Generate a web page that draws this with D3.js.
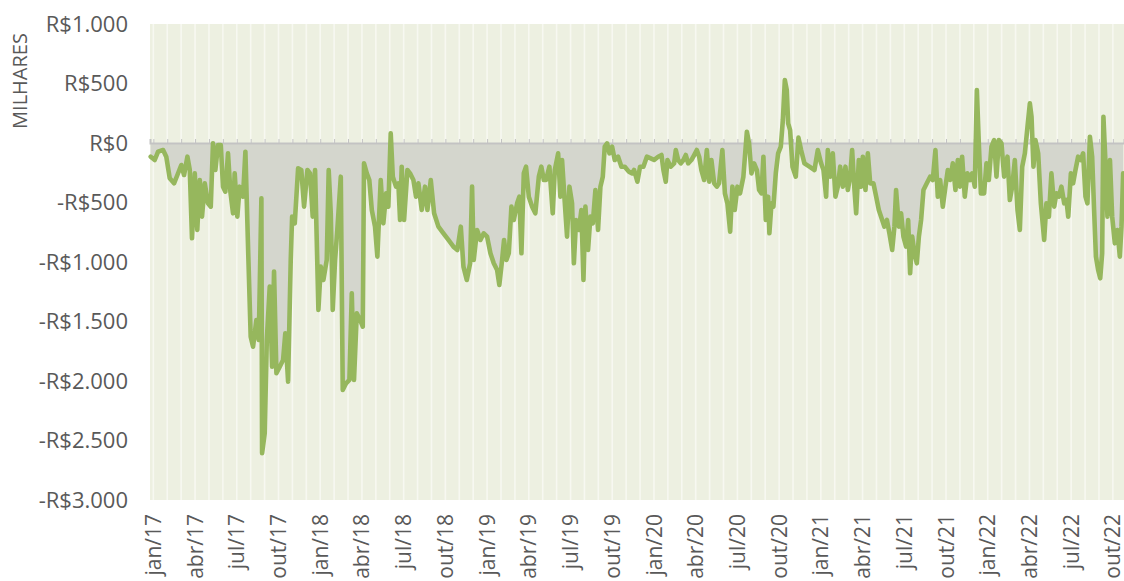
<!DOCTYPE html>
<html>
<head>
<meta charset="utf-8">
<script src="https://cdn.jsdelivr.net/npm/d3@7"></script>
<style>
	body { margin: 0; background: #fff; }
	text { font-family: "Open Sans", sans-serif; fill: #595959; }
</style>
</head>
<body>
<div id="mon"></div>
<script>
// meses desde jan/17 (fração do mês) e saldo em R$ mil
const mes = [
	-0.19,0.10,0.34,0.70,0.93,1.18,1.49,1.73,2.01,2.21,2.45,2.62,2.78,2.98,3.16,3.34,3.50,3.70,3.93,4.13,
	4.29,4.46,4.65,4.85,5.01,5.18,5.37,5.54,5.73,5.85,6.04,6.21,6.45,6.62,6.81,7.00,7.17,7.41,7.58,7.77,
	7.82,8.01,8.16,8.37,8.54,8.68,8.85,9.09,9.33,9.49,9.69,9.88,9.98,10.17,10.41,10.64,10.84,11.08,
	11.27,11.46,11.63,11.87,12.04,12.23,12.47,12.61,12.76,12.90,13.07,13.23,13.48,13.62,13.86,
	14.10,14.27,14.43,14.63,14.87,15.06,15.15,15.35,15.53,15.71,15.94,16.11,16.35,16.54,16.74,
	16.90,17.07,17.22,17.45,17.62,17.74,17.86,18.03,18.27,18.46,18.70,18.89,19.06,19.30,19.54,
	19.71,19.95,20.19,20.50,20.86,21.22,21.58,21.86,22.11,22.30,22.54,22.78,
	22.92,23.04,23.28,23.52,23.76,24.00,24.24,24.48,24.72,24.88,25.08,25.22,25.39,25.56,25.75,
	25.92,26.16,26.32,26.47,26.64,26.80,27.00,27.24,27.47,27.72,27.90,28.08,28.24,28.48,28.72,
	28.87,29.11,29.27,29.39,29.59,29.75,29.92,30.11,30.24,30.40,30.60,30.78,30.93,31.07,31.26,
	31.43,31.60,31.79,31.98,32.15,32.32,32.46,32.63,32.80,32.99,33.18,33.42,33.66,33.90,34.19,34.43,
	34.57,34.81,35.00,35.24,35.49,35.77,36.01,36.30,36.54,36.68,36.85,36.97,37.21,37.45,37.57,
	37.74,37.93,38.12,38.29,38.46,38.69,38.89,39.08,39.25,39.41,39.61,39.80,39.97,40.13,40.33,
	40.52,40.68,40.92,41.10,41.28,41.48,41.64,41.81,42.00,42.19,42.43,42.68,42.84,43.01,43.20,
	43.40,43.56,43.73,43.87,44.04,44.21,44.30,44.45,44.59,44.76,44.93,45.12,45.27,45.41,45.55,
	45.65,45.79,45.96,46.20,
	46.39,46.58,46.82,47.18,47.54,47.78,48.02,48.19,48.38,48.50,48.67,48.86,49.05,49.22,49.39,
	49.58,49.77,49.94,50.11,50.25,50.42,50.54,50.73,50.90,51.02,51.21,51.38,51.55,51.78,51.98,
	52.17,52.41,52.57,52.75,52.93,53.13,53.29,53.41,53.61,53.77,53.94,54.13,54.28,54.42,54.57,
	54.73,54.90,55.05,55.21,55.38,55.62,55.86,56.05,56.24,56.41,56.58,56.77,56.96,57.13,57.30,
	57.49,57.68,57.85,
	58.00,58.16,58.35,58.54,58.72,58.88,59.07,59.22,59.36,59.51,59.74,59.91,60.08,60.27,60.46,
	60.63,60.80,60.99,61.18,61.42,61.59,61.76,61.95,62.14,62.31,62.48,62.67,62.86,63.03,63.15,
	63.29,63.43,63.63,63.82,64.06,64.22,64.40,64.58,64.78,64.94,65.12,65.30,65.50,65.66,65.79,
	65.98,66.14,66.31,66.50,66.70,66.86,67.03,67.17,67.35,67.51,67.65,67.78,67.94,68.09,68.23,
	68.32,68.47,68.61,68.79,68.95,69.14,69.33,69.50,69.62,69.74
];
const saldo = [
	-115,-143,-73,-59,-115,-297,-339,-269,-185,-269,-115,-227,-801,-255,-731,-311,-619,-339,-507,-535,
	-3,-227,-17,-17,-367,-409,-87,-409,-591,-255,-619,-367,-451,-73,-871,-1628,-1712,-1487,-1655,-465,
	-2607,-2439,-1655,-1207,-1880,-1081,-1935,-1880,-1823,-1599,-2006,-983,-619,-675,-213,-227,-535,-227,
	-255,-619,-227,-1403,-1039,-1151,-983,-227,-591,-1403,-983,-731,-283,-2076,-2019,
	-1991,-1263,-1991,-1431,-1487,-1543,-171,-255,-311,-563,-703,-955,-311,-675,-423,
	-535,81,-283,-367,-339,-647,-199,-647,-227,-255,-311,-451,-339,-563,-367,
	-563,-311,-591,-703,-759,-815,-871,-899,-703,-1039,-1151,-1011,
	-367,-983,-731,-815,-759,-787,-927,-1011,-1067,-1193,-983,-815,-983,-927,-535,
	-647,-507,-451,-927,-255,-199,-451,-535,-591,-283,-199,-311,-311,-199,-591,
	-227,-87,-451,-143,-507,-787,-367,-507,-1011,-647,-731,-563,-1151,-535,-899,
	-619,-675,-395,-731,-367,-283,-31,-3,-87,-31,-143,-115,-199,-199,-241,-255,
	-227,-325,-199,-199,-115,-129,-143,-115,-101,-227,-325,-143,-199,-171,-59,
	-143,-171,-143,-101,-171,-143,-101,-59,-115,-227,-311,-59,-325,-143,-339,
	-367,-339,-59,-423,-507,-745,-367,-563,-367,-423,-283,95,-3,-255,-171,
	-227,-395,-423,-115,-647,-451,-759,-507,-535,-255,-87,-31,193,529,445,
	165,109,-199,-283,
	45,-59,-171,-199,-227,-59,-171,-227,-451,-59,-283,-87,-451,-367,-199,
	-367,-199,-395,-283,-59,-395,-591,-143,-367,-115,-395,-87,-339,-339,-451,
	-563,-647,-703,-647,-759,-899,-703,-395,-703,-591,-787,-871,-647,-1095,-787,
	-927,-1011,-787,-647,-395,-339,-283,-311,-59,-451,-311,-535,-367,-227,-311,
	-171,-395,-143,
	-367,-115,-451,-255,-311,-255,-367,445,-3,-423,-423,-171,-311,-31,25,
	-283,25,-3,-283,-115,-479,-367,-143,-563,-731,-199,-87,137,333,221,
	-199,25,-87,-507,-815,-507,-619,-255,-535,-423,-451,-367,-507,-479,-619,
	-255,-339,-227,-115,-143,-87,-451,-507,53,-115,-563,-955,-1067,-1137,-927,
	221,-171,-619,-143,-619,-843,-731,-955,-703,-255
];

const mesesRot = d3.range(0, 70, 3);
const rotulosX = ['jan/17','abr/17','jul/17','out/17','jan/18','abr/18','jul/18','out/18',
	'jan/19','abr/19','jul/19','out/19','jan/20','abr/20','jul/20','out/20',
	'jan/21','abr/21','jul/21','out/21','jan/22','abr/22','jul/22','out/22'];
const valoresY = [1000, 500, 0, -500, -1000, -1500, -2000, -2500, -3000];
const rotulosY = ['R$1.000','R$500','R$0','-R$500','-R$1.000','-R$1.500','-R$2.000','-R$2.500','-R$3.000'];

const Amplada = 1124, Alcada = 581;
const marge = {dalt: 24, dreta: 0, baix: 81, esquerra: 150};

const svg = d3.select('#mon').append('svg')
	.attr('width', Amplada)
	.attr('height', Alcada);

const x = d3.scaleLinear().domain([-0.24, 69.8]).range([marge.esquerra, Amplada - marge.dreta]);
const y = d3.scaleLinear().domain([-3000, 1000]).range([Alcada - marge.baix, marge.dalt]);

const dades = d3.zip(mes, saldo);

// fons da área do gráfico
svg.append('rect')
	.attr('x', x.range()[0]).attr('y', y(1000))
	.attr('width', x.range()[1] - x.range()[0])
	.attr('height', y(-3000) - y(1000))
	.attr('fill', '#edf0e1');

// listras mensais
svg.append('g').selectAll('line')
	.data(d3.range(0, 70))
	.join('line')
		.attr('x1', d => x(d)).attr('x2', d => x(d))
		.attr('y1', y(1000)).attr('y2', y(-3000))
		.attr('stroke', '#f7f8f1')
		.attr('stroke-width', 1.6);

// área cinza abaixo de zero
const area = d3.area()
	.x(d => x(d[0]))
	.y0(y(0))
	.y1(d => y(Math.min(d[1], 0)));
svg.append('path')
	.datum(dades)
	.attr('d', area)
	.attr('fill', '#d4d6cd');

// eixo no zero
const eixoX = d3.axisTop(x)
	.tickValues(d3.range(0, 70))
	.tickSize(4)
	.tickFormat('');
const gx = svg.append('g')
	.attr('transform', `translate(0,${y(0)})`)
	.call(eixoX);
gx.select('.domain').attr('stroke', '#c3c3c3').attr('stroke-width', 2);
gx.selectAll('.tick line').attr('stroke', '#c3c3c3').attr('stroke-width', 1);

// linha
const linia = d3.line()
	.x(d => x(d[0]))
	.y(d => y(d[1]));
svg.append('path')
	.datum(dades)
	.attr('d', linia)
	.attr('fill', 'none')
	.attr('stroke', '#96b75d')
	.attr('stroke-width', 4.6)
	.attr('stroke-linejoin', 'round')
	.attr('stroke-linecap', 'round');

// rótulos Y
svg.append('g').selectAll('text')
	.data(valoresY)
	.join('text')
		.attr('x', 128)
		.attr('y', d => y(d))
		.attr('dy', '0.36em')
		.attr('text-anchor', 'end')
		.style('font-size', '22px')
		.text((d, i) => rotulosY[i]);

// rótulos X
svg.append('g').selectAll('text')
	.data(mesesRot)
	.join('text')
		.attr('transform', d => `translate(${x(d)},514) rotate(-90)`)
		.attr('dy', '0.36em')
		.attr('text-anchor', 'end')
		.style('font-size', '21px')
		.text((d, i) => rotulosX[i]);

svg.append('text')
	.attr('transform', 'translate(20,81) rotate(-90)')
	.attr('dy', '0.36em')
	.attr('text-anchor', 'middle')
	.style('font-size', '20px')
	.text('MILHARES');
</script>
</body>
</html>
